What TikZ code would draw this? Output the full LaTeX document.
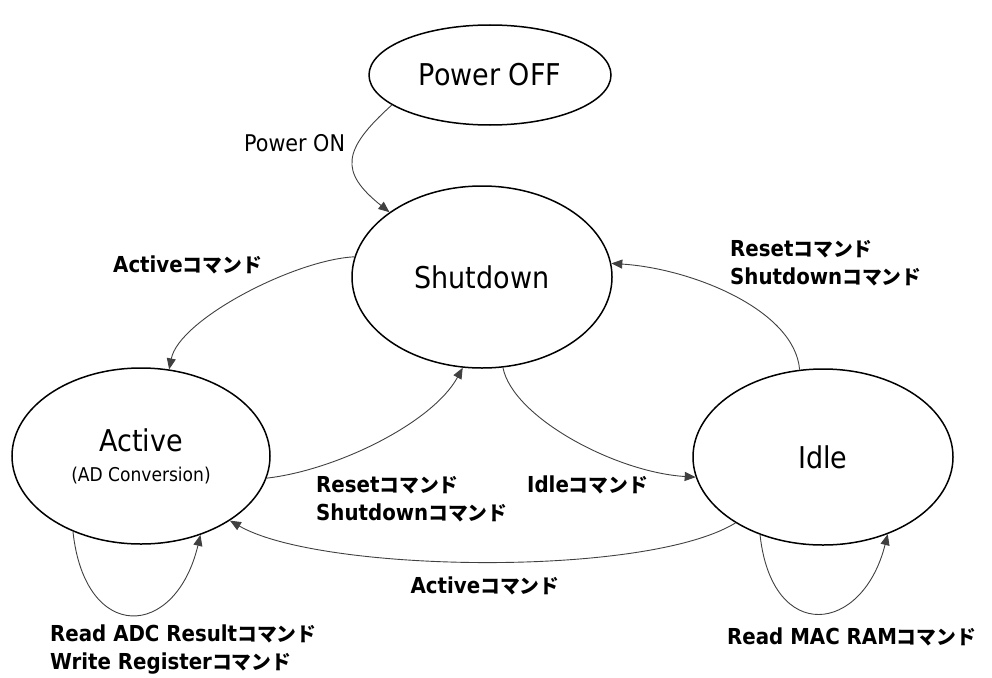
\documentclass[tikz,border=0pt]{standalone}
\usepackage{fontspec}
\setmainfont{DejaVu Sans Condensed}
\newfontfamily\jpfont[Scale=0.9]{Noto Sans CJK JP}
\usetikzlibrary{arrows.meta,shapes.geometric}
\newcommand\jcmd{{\jpfont コマンド}}
\begin{document}
\begin{tikzpicture}[x=1pt,y=-1pt,
  state/.style={ellipse, draw=black, line width=1.5pt, inner sep=0pt, align=center,
    font=\fontsize{30}{36}\selectfont},
  conn/.style={draw=black!75, line width=0.9pt, -{Triangle[length=11pt,width=9pt]}},
  lbl/.style={font=\fontsize{22}{28}\selectfont\bfseries, align=left, anchor=west, inner sep=0pt},
  lblr/.style={font=\fontsize{23}{28}\selectfont, anchor=west, inner sep=0pt}]
\useasboundingbox (0,0) rectangle (992,677);
% states
\node[state, minimum width=242pt, minimum height=100pt] (off) at (490,75) {Power OFF};
\node[state, minimum width=260pt, minimum height=182pt] (shut) at (482,277) {Shutdown};
\node[state, minimum width=258pt, minimum height=176pt] (act) at (141,456)
  {Active\\[-6pt]{\fontsize{19}{22}\selectfont (AD Conversion)}};
\node[state, minimum width=260pt, minimum height=176pt] (idle) at (823,457) {Idle};
% connectors
\draw[conn] (off.197) .. controls +(-50,45) and +(-50,-40) .. (shut.145);
\draw[conn] (shut.171) .. controls +(-60,3) and +(10,-50) .. (act.72);
\draw[conn] (act.350) .. controls +(70,-8) and +(-30,55) .. (shut.258);
\draw[conn] (shut.283) .. controls +(10,50) and +(-80,-5) .. (idle.189);
\draw[conn] (idle.105) .. controls +(-5,-60) and +(80,5) .. (shut.6);
\draw[conn] (idle.217) .. controls +(-90,55) and +(90,52) .. (act.324);
\draw[conn] (act.228) .. controls +(12,112) and +(-25,105) .. (act.307);
\draw[conn] (idle.231) .. controls +(12,110) and +(-25,100) .. (idle.310);
% labels
\node[lblr] (pon) at (244,143) {Power ON};
\node[lbl] (l1) at (113,265) {Active\jcmd};
\node[lbl] (l2) at (730,263) {Reset\jcmd\\Shutdown\jcmd};
\node[lbl] (l3) at (316,499.5) {Reset\jcmd\\Shutdown\jcmd};
\node[lbl] (l4) at (527,485) {Idle\jcmd};
\node[lbl, anchor=center] (l5) at (485,586) {Active\jcmd};
\node[lbl] (l6) at (50,650) {Read ADC Result\jcmd\\Write Register\jcmd};
\node[lbl] (l7) at (727,637) {Read MAC RAM\jcmd};
\end{tikzpicture}
\end{document}
